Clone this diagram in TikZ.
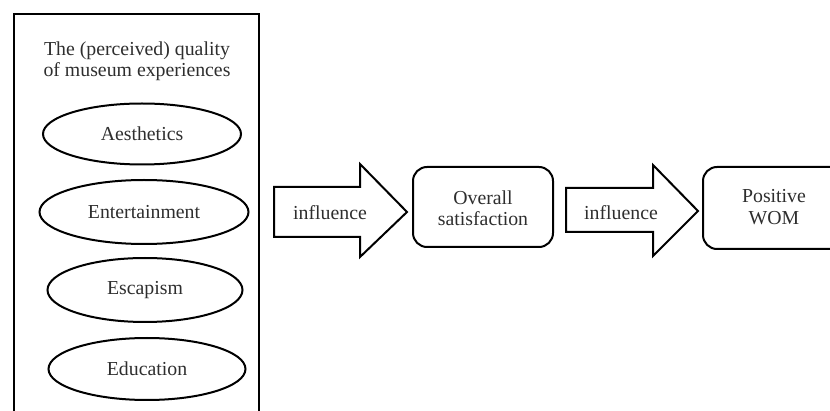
\documentclass[tikz,border=0pt]{standalone}
\usepackage{fontspec}
\setmainfont{Liberation Serif}
\usetikzlibrary{shapes.geometric}
\definecolor{txt}{HTML}{2E2E2E}
\begin{document}
\begin{tikzpicture}[x=1pt,y=-1pt,
  lbl/.style={font=\fontsize{19.8}{21.5}\selectfont, text=txt, align=center, inner sep=0pt},
  oval/.style={ellipse, draw=black, line width=2pt, inner sep=0pt, font=\fontsize{19.8}{21.5}\selectfont, text=txt},
  blockarrow/.style={draw=black, line width=2pt, line join=miter},
  rbox/.style={draw=black, line width=2pt, rounded corners=14pt}
]
\useasboundingbox (0,0) rectangle (830,411);
\begin{scope}
\clip (0,0) rectangle (830,411);
% left frame
\draw[line width=2pt] (14,14) rectangle (259,440);
\node[lbl] (title) at (137,61) {The (perceived) quality\\of museum experiences};
\node[oval, minimum width=198pt, minimum height=61pt] (aes) at (142,134) {Aesthetics};
\node[oval, minimum width=209pt, minimum height=64pt] (ent) at (144,212) {Entertainment};
\node[oval, minimum width=195pt, minimum height=64pt] (esc) at (145,290) {Escapism};
\node[oval, minimum width=197pt, minimum height=62pt] (edu) at (147,369) {Education};
% arrow 1
\draw[blockarrow] (274,187) -- (360,187) -- (360,164) -- (407,212) -- (360,257) -- (360,237) -- (274,237) -- cycle;
\node[lbl] (inf1) at (330,213) {influence};
% box 1
\draw[rbox] (413,167) rectangle (553,247);
\node[lbl] (sat) at (483,208) {Overall\\satisfaction};
% arrow 2
\draw[blockarrow] (566,188) -- (653,188) -- (653,165) -- (698,211) -- (653,256) -- (653,232) -- (566,232) -- cycle;
\node[lbl] (inf2) at (621,213) {influence};
% box 2
\draw[rbox] (703,167) rectangle (850,249);
\node[lbl] (wom) at (774,207) {Positive\\WOM};
\end{scope}
\end{tikzpicture}
\end{document}
